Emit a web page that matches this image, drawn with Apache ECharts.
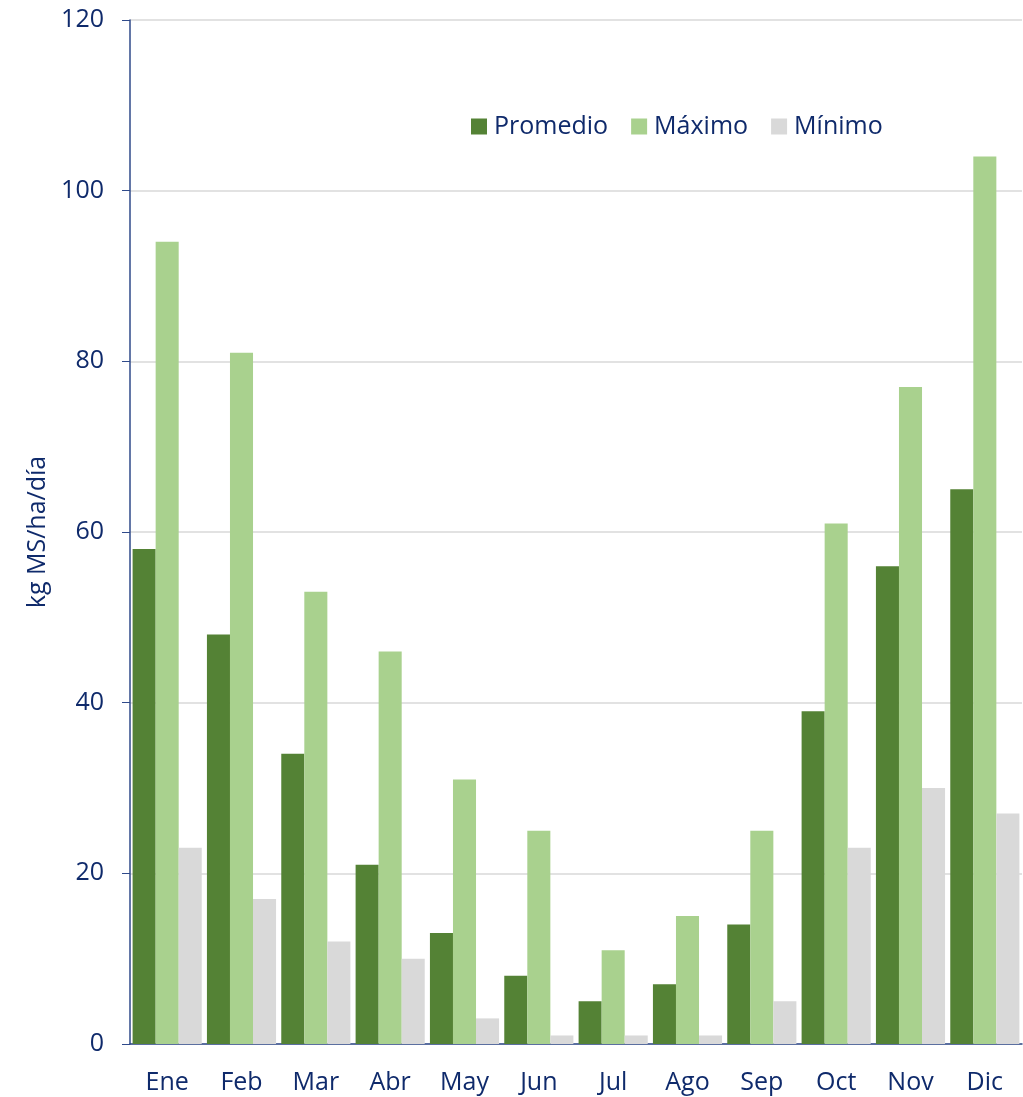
<!DOCTYPE html>
<html>
<head>
<meta charset="utf-8">
<script src="https://cdn.jsdelivr.net/npm/echarts@6/dist/echarts.min.js"></script>
<style>
  html, body { margin: 0; padding: 0; background: #fff; }
  #chart { width: 1023px; height: 1097px; }
</style>
</head>
<body>
<div id="chart"></div>
<script>
var months = ['Ene', 'Feb', 'Mar', 'Abr', 'May', 'Jun', 'Jul', 'Ago', 'Sep', 'Oct', 'Nov', 'Dic'];
var promedio = [58, 48, 34, 21, 13, 8, 5, 7, 14, 39, 56, 65];
var maximo = [94, 81, 53, 46, 31, 25, 11, 15, 25, 61, 77, 104];
var minimo = [23, 17, 12, 10, 3, 1, 1, 1, 5, 23, 30, 27];

var navy = '#0f2a6b';
var axisCol = '#2f4a8a';
var font = 'Open Sans';

function chart() {
    var dom = document.getElementById('chart');
    var myChart = echarts.init(dom);
    var option = {
        animation: false,
        textStyle: { fontFamily: font, color: navy },
        legend: {
            left: 466,
            top: 109,
            itemWidth: 16,
            itemHeight: 16,
            itemGap: 23,
            icon: 'rect',
            textStyle: { fontFamily: font, fontSize: 25, color: navy, padding: [0, 0, 0, 2] },
            data: ['Promedio', 'Máximo', 'Mínimo']
        },
        grid: { left: 130, right: 1, top: 20, bottom: 53 },
        xAxis: {
            type: 'category',
            data: months,
            axisLine: { lineStyle: { color: axisCol, width: 1.5 } },
            axisTick: { length: 9, lineStyle: { color: axisCol } },
            axisLabel: { fontFamily: font, fontSize: 25, color: navy, margin: 26 }
        },
        yAxis: {
            type: 'value',
            min: 0,
            max: 120,
            interval: 20,
            name: 'kg MS/ha/día',
            nameLocation: 'middle',
            nameGap: 74,
            nameTextStyle: { fontFamily: font, fontSize: 25, color: navy },
            axisLine: { show: true, lineStyle: { color: axisCol, width: 1.5 } },
            axisTick: { show: true, length: 8, lineStyle: { color: axisCol } },
            axisLabel: { fontFamily: font, fontSize: 25, color: navy, margin: 26 },
            splitLine: { lineStyle: { color: '#d9d9d9', width: 1.5 } }
        },
        series: [
            { name: 'Promedio', type: 'bar', data: promedio, barGap: '0%', barCategoryGap: '7%',
              itemStyle: { color: '#548235' } },
            { name: 'Máximo', type: 'bar', data: maximo, barGap: '0%', barCategoryGap: '7%',
              itemStyle: { color: '#a9d18e' } },
            { name: 'Mínimo', type: 'bar', data: minimo, barGap: '0%', barCategoryGap: '7%',
              itemStyle: { color: '#d9d9d9' } }
        ]
    };
    myChart.setOption(option, true);
}
chart();
</script>
</body>
</html>
